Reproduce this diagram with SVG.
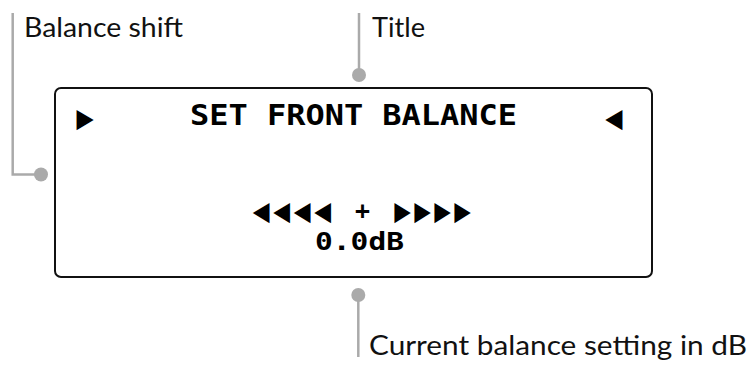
<svg xmlns="http://www.w3.org/2000/svg" width="751" height="365" viewBox="0 0 751 365">
<style>
.lbl{font-family:Lato,"Liberation Sans",sans-serif;font-size:27px;fill:#111}
.lcd{font-family:"DejaVu Sans Mono","DejaVu Sans",monospace;font-weight:bold;fill:#000}
.tri{font-family:"Noto Sans CJK SC",sans-serif;font-weight:normal;font-size:21.5px}
.lead{stroke:#aaa;stroke-width:2.5;fill:none}
.dot{fill:#aaa}
</style>
<rect width="751" height="365" fill="#fff"/>
<g id="display">
<rect x="55" y="88" width="597" height="189" rx="6" fill="#fff" stroke="#111" stroke-width="2"/>
<text class="lcd tri" x="74" y="127.8" textLength="21" lengthAdjust="spacingAndGlyphs">▶</text>
<text class="lcd" x="190" y="125" font-size="29" textLength="327" lengthAdjust="spacingAndGlyphs">SET FRONT BALANCE</text>
<text class="lcd tri" x="604" y="127.8" textLength="21" lengthAdjust="spacingAndGlyphs">◀</text>
<text class="lcd"><tspan class="tri" x="251.5" y="221" textLength="82" lengthAdjust="spacingAndGlyphs">◀◀◀◀</tspan> <tspan x="355" y="218.5" font-size="24" textLength="15" lengthAdjust="spacingAndGlyphs">+</tspan> <tspan class="tri" x="392" y="221" textLength="80" lengthAdjust="spacingAndGlyphs">▶▶▶▶</tspan></text>
<text class="lcd" x="315" y="250" font-size="25" textLength="89" lengthAdjust="spacingAndGlyphs">0.0dB</text>
</g>
<g id="connectors">
<polyline class="lead" points="12.7,13 12.7,174.5 41,174.5"/>
<circle class="dot" cx="41" cy="174.5" r="7"/>
<line class="lead" x1="359" y1="13" x2="359" y2="75"/>
<circle class="dot" cx="359" cy="75" r="7"/>
<line class="lead" x1="358.3" y1="295" x2="358.3" y2="357"/>
<circle class="dot" cx="358.3" cy="295" r="7"/>
</g>
<g id="label-balance-shift">
<text class="lbl" x="24" y="36.7" textLength="159" lengthAdjust="spacingAndGlyphs">Balance shift</text>
</g>
<g id="label-title">
<text class="lbl" x="372" y="36.7" textLength="53" lengthAdjust="spacingAndGlyphs">Title</text>
</g>
<g id="label-current">
<text class="lbl" x="369" y="355" textLength="378" lengthAdjust="spacingAndGlyphs">Current balance setting in dB</text>
</g>
</svg>
